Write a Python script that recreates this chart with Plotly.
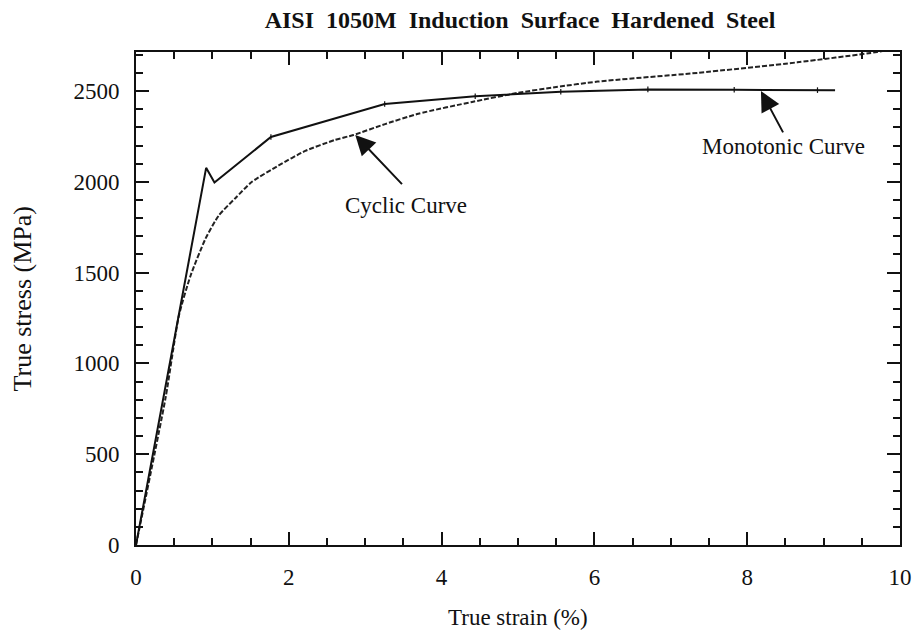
import plotly.graph_objects as go

# Monotonic curve (solid)
mono_strain = [0.0, 0.918, 1.027, 1.766, 3.255, 4.44, 5.56, 6.70, 7.83, 8.92, 9.15]
mono_stress = [0, 2077, 1996, 2247, 2429, 2471, 2496, 2509, 2507, 2505, 2504]

# Cyclic curve (dashed)
cyc_strain = [0.0, 0.388, 0.561, 0.714, 0.909, 1.084, 1.30, 1.518, 1.867, 2.215, 2.6, 2.846,
              3.26, 3.695, 4.4, 5.0, 5.5, 6.04, 7.35, 8.655, 9.7, 10.0]
cyc_stress = [0, 813, 1262, 1483, 1686, 1815, 1910, 2000, 2090, 2170, 2230, 2258,
              2318, 2375, 2440, 2490, 2522, 2552, 2600, 2658, 2715, 2740]

x_ticks = [0, 2, 4, 6, 8, 10]
y_ticks = [0, 500, 1000, 1500, 2000, 2500]

FONT = "Liberation Serif, Times New Roman, serif"
INK = "#111"

fig = go.Figure()
fig.add_trace(go.Scatter(x=cyc_strain, y=cyc_stress, mode="lines",
                         line=dict(color="#222", width=2, dash="5px,2px", shape="spline", smoothing=0.6),
                         name="Cyclic Curve", showlegend=False))
fig.add_trace(go.Scatter(x=mono_strain, y=mono_stress, mode="lines",
                         line=dict(color=INK, width=2),
                         name="Monotonic Curve", showlegend=False))
# small data-point marks on the monotonic curve
fig.add_trace(go.Scatter(x=mono_strain[3:-1], y=mono_stress[3:-1], mode="markers",
                         marker=dict(symbol="line-ns", size=4, line=dict(color=INK, width=1.2)),
                         hoverinfo="skip", showlegend=False))

axis_common = dict(showgrid=False, zeroline=False, showline=True, linecolor=INK,
                   linewidth=2, mirror="ticks", ticks="inside", tickcolor=INK,
                   tickwidth=1.5, ticklen=13,
                   tickfont=dict(family=FONT, size=23, color=INK))

fig.update_xaxes(range=[0, 10], tickvals=x_ticks, ticklabelstandoff=10,
                 minor=dict(dtick=0.5, ticks="inside", ticklen=7, tickwidth=1.5, tickcolor=INK),
                 **axis_common)
fig.update_yaxes(range=[0, 2715], tickvals=y_ticks, ticklabelstandoff=10,
                 minor=dict(dtick=100, ticks="inside", ticklen=7, tickwidth=1.5, tickcolor=INK),
                 **axis_common)

# axis titles
fig.add_annotation(x=0.5, y=-0.148, xref="paper", yref="paper", text="True strain (%)",
                   showarrow=False, font=dict(family=FONT, size=23, color=INK),
                   xanchor="center", yanchor="middle")
fig.add_annotation(x=-0.148, y=0.5, xref="paper", yref="paper", text="True stress (MPa)",
                   showarrow=False, textangle=-90, font=dict(family=FONT, size=26, color=INK),
                   xanchor="center", yanchor="middle")

ann_font = dict(family=FONT, size=23, color=INK)
fig.add_annotation(x=2.87, y=2258, ax=3.50, ay=1979, xref="x", yref="y", axref="x", ayref="y",
                   text="", showarrow=True, arrowhead=2, arrowsize=2, arrowwidth=2, arrowcolor=INK)
fig.add_annotation(x=3.54, y=1868, xref="x", yref="y", text="Cyclic Curve", showarrow=False,
                   font=ann_font)
fig.add_annotation(x=8.18, y=2500, ax=8.48, ay=2264, xref="x", yref="y", axref="x", ayref="y",
                   text="", showarrow=True, arrowhead=2, arrowsize=2, arrowwidth=2, arrowcolor=INK)
fig.add_annotation(x=8.48, y=2192, xref="x", yref="y", text="Monotonic Curve", showarrow=False,
                   font=ann_font)

fig.update_layout(
    width=924, height=636,
    margin=dict(l=136, r=20, t=52, b=91),
    paper_bgcolor="white", plot_bgcolor="white",
    title=dict(text="<b>AISI&nbsp; 1050M&nbsp; Induction&nbsp; Surface&nbsp; Hardened&nbsp; Steel</b>",
               x=(136 + 904) / 2 / 924, xanchor="center", y=1 - 20 / 636, yanchor="middle",
               font=dict(family=FONT, size=24, color=INK)),
)

fig.write_html("out.html")
